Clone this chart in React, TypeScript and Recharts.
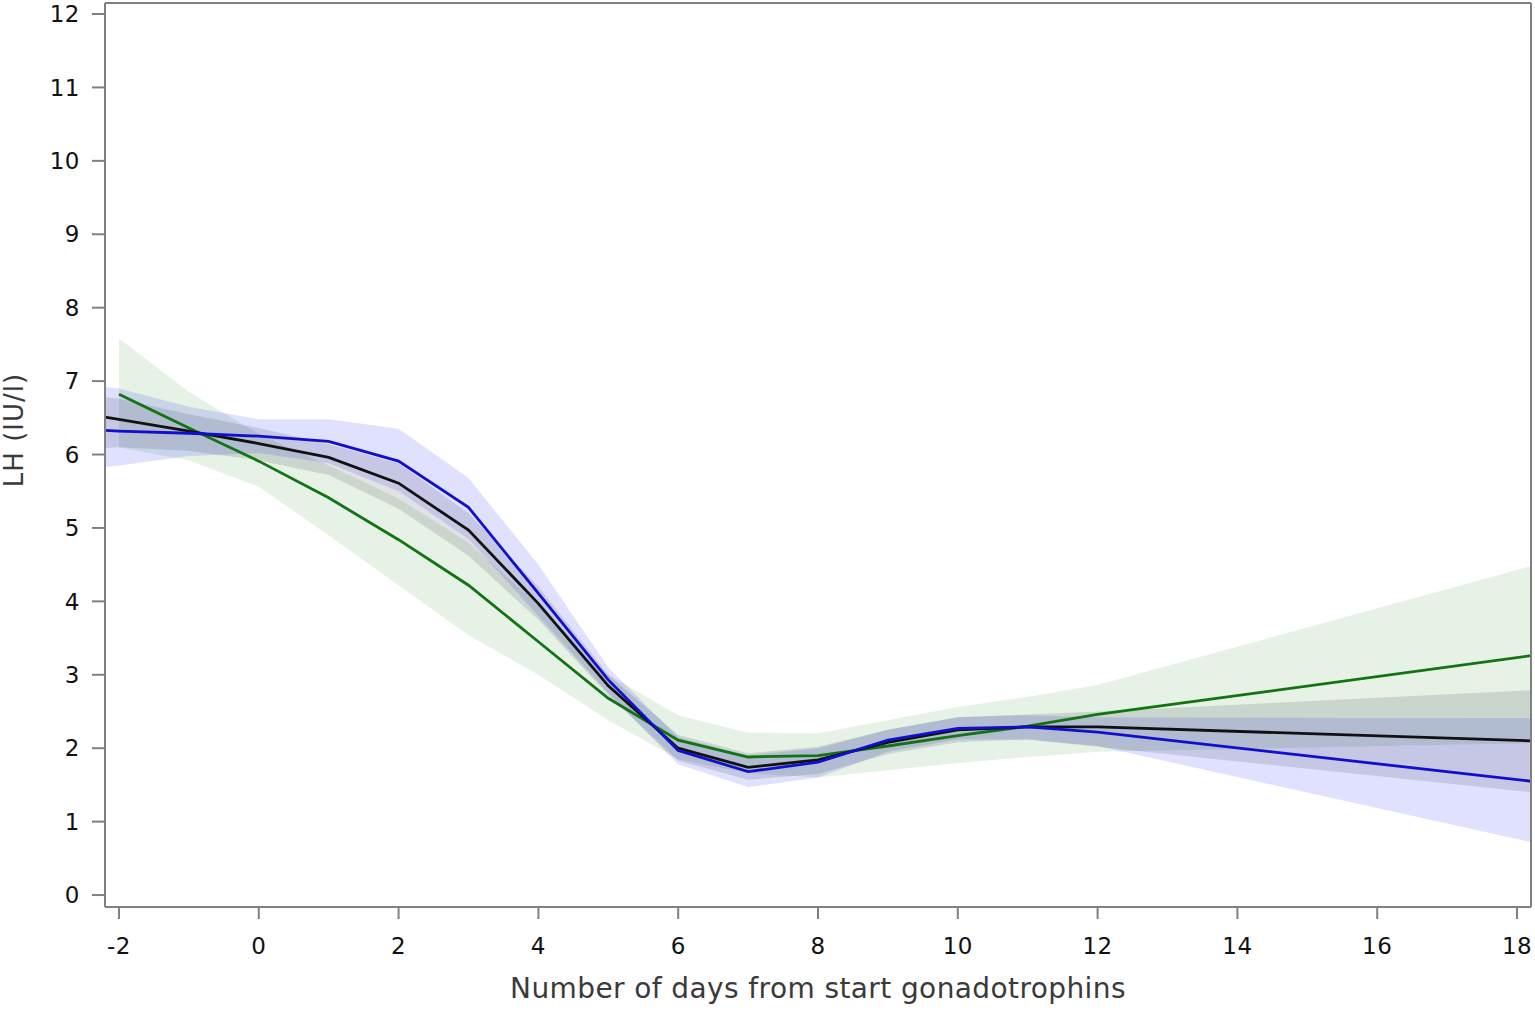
import React from "react";
import {
  ComposedChart,
  Line,
  Area,
  XAxis,
  YAxis,
  ReferenceLine,
  Label,
} from "recharts";

// Days from start gonadotrophins (first/last entries are the plot edges)
const DAYS = [-2.2, -2, -1, 0, 1, 2, 3, 4, 5, 6, 7, 8, 9, 10, 11, 12, 18.2];

// Black series (overall)
const BLACK = [6.51, 6.48, 6.32, 6.15, 5.96, 5.61, 4.97, 3.97, 2.85, 2.0, 1.74, 1.84, 2.08, 2.25, 2.29, 2.29, 2.1];
const BLACK_LO = [6.09, 6.1, 6.05, 5.92, 5.72, 5.26, 4.62, 3.75, 2.72, 1.83, 1.57, 1.65, 1.92, 2.08, 2.12, 2.02, 1.4];
const BLACK_HI = [6.78, 6.76, 6.55, 6.36, 6.14, 5.88, 5.2, 4.2, 3.0, 2.18, 1.93, 2.02, 2.25, 2.42, 2.46, 2.5, 2.79];

// Blue series
const BLUE = [6.33, 6.32, 6.29, 6.25, 6.18, 5.91, 5.28, 4.11, 2.93, 1.97, 1.68, 1.81, 2.11, 2.27, 2.29, 2.22, 1.55];
const BLUE_LO = [5.83, 5.85, 5.98, 6.02, 5.88, 5.5, 4.85, 3.8, 2.75, 1.78, 1.47, 1.6, 1.95, 2.12, 2.12, 2.03, 0.72];
const BLUE_HI = [6.92, 6.9, 6.65, 6.48, 6.48, 6.35, 5.68, 4.5, 3.1, 2.15, 1.9, 2.0, 2.25, 2.42, 2.45, 2.42, 2.41];

// Green series
const GREEN = [null, 6.82, 6.36, 5.91, 5.41, 4.84, 4.22, 3.45, 2.68, 2.11, 1.88, 1.9, 2.03, 2.17, 2.3, 2.46, 3.26];
const GREEN_LO = [null, 6.1, 5.92, 5.56, 4.9, 4.22, 3.54, 3.0, 2.38, 1.85, 1.66, 1.6, 1.7, 1.8, 1.88, 1.95, 2.07];
const GREEN_HI = [null, 7.58, 6.85, 6.28, 5.85, 5.4, 4.8, 3.95, 3.0, 2.45, 2.21, 2.2, 2.38, 2.56, 2.7, 2.86, 4.48];

const X_TICKS = [-2, 0, 2, 4, 6, 8, 10, 12, 14, 16, 18];
const Y_TICKS = [0, 1, 2, 3, 4, 5, 6, 7, 8, 9, 10, 11, 12];

const X_LABEL = "Number of days from start gonadotrophins";
const Y_LABEL = "LH (IU/l)";

const band = (lo: (number | null)[], hi: (number | null)[], i: number) =>
  lo[i] == null || hi[i] == null ? null : [lo[i], hi[i]];

const data = DAYS.map((d, i) => ({
  day: d,
  black: BLACK[i],
  blue: BLUE[i],
  green: GREEN[i],
  blackBand: band(BLACK_LO, BLACK_HI, i),
  blueBand: band(BLUE_LO, BLUE_HI, i),
  greenBand: band(GREEN_LO, GREEN_HI, i),
}));

const AXIS = "#808080";
const FONT = "'DejaVu Sans', 'Liberation Sans', Arial, sans-serif";

export default function App() {
  return (
    <div style={{ position: "absolute", left: 0, top: 0, background: "#fff" }}>
      <ComposedChart
        width={1535}
        height={1011}
        data={data}
        margin={{ top: 3, right: 4, left: 0, bottom: 0 }}
      >
        <XAxis
          dataKey="day"
          type="number"
          domain={[-2.2, 18.2]}
          ticks={X_TICKS}
          allowDataOverflow
          height={104}
          stroke={AXIS}
          strokeWidth={2}
          tickSize={12}
          tickMargin={19}
          tick={{ fontSize: 23, fill: "#111", fontFamily: FONT, letterSpacing: 0.5 }}
        >
          <Label
            content={({ viewBox }: any) => (
              <text
                x={viewBox.x + viewBox.width / 2}
                y={viewBox.y + 91}
                textAnchor="middle"
                fontFamily={FONT}
                fontSize={28}
                letterSpacing={0.4}
                fill="#3a3a3a"
              >
                {X_LABEL}
              </text>
            )}
          />
        </XAxis>
        <YAxis
          type="number"
          domain={[-0.163, 12.15]}
          ticks={Y_TICKS}
          allowDataOverflow
          width={105}
          stroke={AXIS}
          strokeWidth={2}
          tickSize={13}
          tickMargin={12}
          tick={{ fontSize: 23, fill: "#111", fontFamily: FONT, letterSpacing: 0.5 }}
        >
          <Label
            content={({ viewBox }: any) => (
              <text
                x={viewBox.x + 23}
                y={viewBox.y + 427}
                transform={`rotate(-90, ${viewBox.x + 23}, ${viewBox.y + 427})`}
                textAnchor="middle"
                fontFamily={FONT}
                fontSize={26}
                letterSpacing={1}
                fill="#3a3a3a"
              >
                {Y_LABEL}
              </text>
            )}
          />
        </YAxis>

        <Area
          type="linear"
          dataKey="greenBand"
          fill="#008000"
          fillOpacity={0.1}
          stroke="none"
          activeDot={false}
          isAnimationActive={false}
        />
        <Area
          type="linear"
          dataKey="blueBand"
          fill="#0000ff"
          fillOpacity={0.12}
          stroke="none"
          activeDot={false}
          isAnimationActive={false}
        />
        <Area
          type="linear"
          dataKey="blackBand"
          fill="#1a2030"
          fillOpacity={0.13}
          stroke="none"
          activeDot={false}
          isAnimationActive={false}
        />

        <Line
          type="linear"
          dataKey="green"
          stroke="#127312"
          strokeWidth={2.8}
          dot={false}
          activeDot={false}
          isAnimationActive={false}
        />
        <Line
          type="linear"
          dataKey="black"
          stroke="#111111"
          strokeWidth={2.8}
          dot={false}
          activeDot={false}
          isAnimationActive={false}
        />
        <Line
          type="linear"
          dataKey="blue"
          stroke="#1010cc"
          strokeWidth={2.8}
          dot={false}
          activeDot={false}
          isAnimationActive={false}
        />

        <ReferenceLine y={12.15} stroke={AXIS} strokeWidth={2} />
        <ReferenceLine x={18.2} stroke={AXIS} strokeWidth={2} />
      </ComposedChart>
    </div>
  );
}
